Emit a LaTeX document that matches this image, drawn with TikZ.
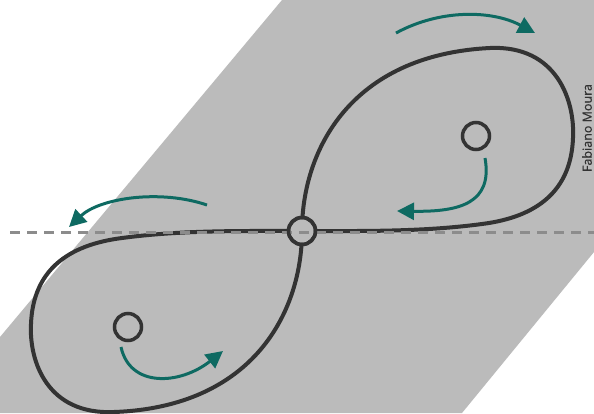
\documentclass[tikz,border=0pt]{standalone}
\usepackage{fontspec}
\setmainfont{Open Sans}
\usetikzlibrary{arrows.meta}
\definecolor{band}{HTML}{BBBBBB}
\definecolor{curvec}{HTML}{333333}
\definecolor{teal2}{HTML}{0E6A62}
\definecolor{dashc}{HTML}{8C8C8C}
\tikzset{
  lobe/.style={draw=curvec, line width=4pt},
  ring/.style={circle, draw=curvec, line width=3.5pt, minimum size=27pt, inner sep=0pt},
  spin/.style={draw=teal2, line width=3pt, -{Triangle[length=17pt,width=17pt]}},
  axis/.style={draw=dashc, line width=3pt, dash pattern=on 10pt off 7pt},
}
\begin{document}
\begin{tikzpicture}[x=1pt,y=-1pt]
\useasboundingbox (0,0) rectangle (594,413);
\fill[white] (0,0) rectangle (594,413);
\fill[band] (282,0) -- (594,0) -- (594,252) -- (462,413) -- (0,413) -- (0,337) -- cycle;
\coordinate (c) at (302,231);
% figure eight
\begin{scope}[shift={(302,231)}]
  \draw[lobe] (0,0) .. controls (0,-80) and (48,-176) .. (188,-183)
    .. controls (255,-186) and (273,-130) .. (271,-93)
    .. controls (269,-40) and (235,-14) .. (180,-7)
    .. controls (120,1) and (60,0) .. (0,0);
  \draw[lobe] (0,0) .. controls (0,80) and (-48,176) .. (-188,181)
    .. controls (-255,184) and (-273,130) .. (-271,93)
    .. controls (-269,40) and (-235,14) .. (-180,7)
    .. controls (-120,-1) and (-60,0) .. (0,0);
\end{scope}
\node[ring, fill=band] (center) at (c) {};
\coordinate (dl) at (10,232);
\coordinate (dr) at (594,232);
\draw[axis] (dl) -- (dr);
\node[ring] (centerring) at (c) {};
\node[ring] (top) at (476,136) {};
\node[ring] (bottom) at (128,327) {};
% arrows
\coordinate (a1s) at (396,33); \coordinate (a1e) at (535,33);
\draw[spin] (a1s) .. controls (440,9) and (492,10) .. (a1e);
\coordinate (a2s) at (207,205); \coordinate (a2e) at (69,227);
\draw[spin] (a2s) .. controls (160,189) and (100,198) .. (a2e);
\coordinate (a3s) at (485,158); \coordinate (a3e) at (397,211);
\draw[spin] (a3s) .. controls (493,203) and (460,212) .. (a3e);
\coordinate (a4s) at (121,347); \coordinate (a4e) at (223,351);
\draw[spin] (a4s) .. controls (130,388) and (180,385) .. (a4e);
\node[rotate=90, font=\fontsize{12.5}{14}\selectfont\addfontfeature{FakeBold=0.6}, text=curvec, inner sep=0pt] (credit) at (587,128) {Fabiano Moura};
\end{tikzpicture}
\end{document}
